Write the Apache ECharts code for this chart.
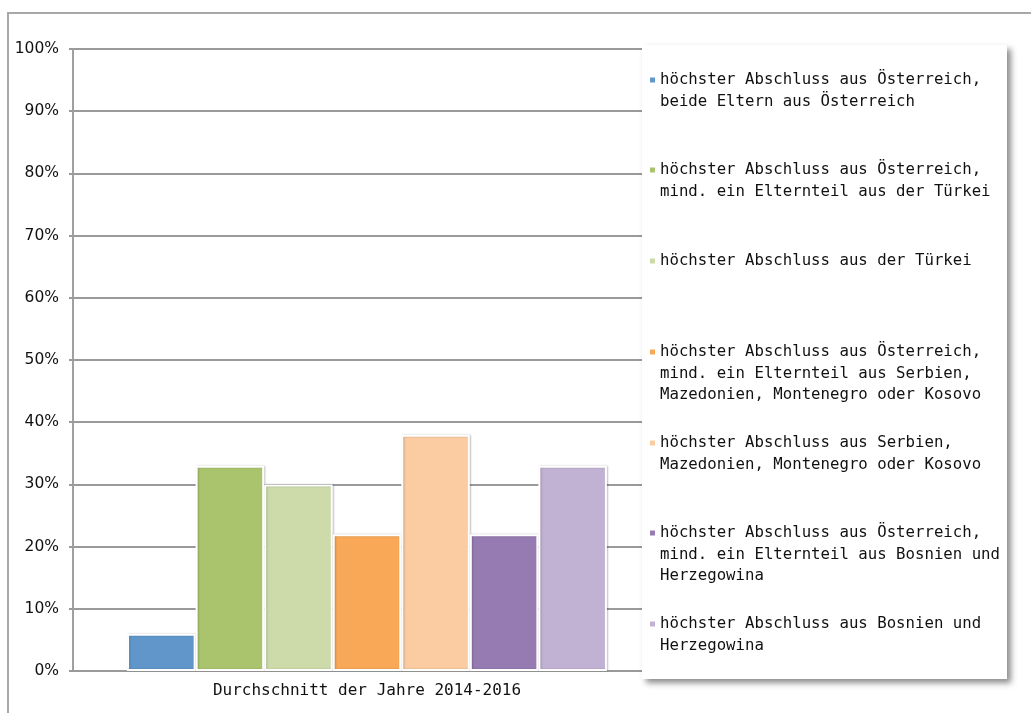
<!DOCTYPE html>
<html>
<head>
<meta charset="utf-8">
<script src="https://cdn.jsdelivr.net/npm/echarts@6/dist/echarts.min.js"></script>
<style>
  html, body { margin: 0; padding: 0; background: #fff; }
  #chart { width: 1031px; height: 713px; }
</style>
</head>
<body>
<div id="chart"></div>
<script>
// data
const categories = ['Durchschnitt der Jahre 2014-2016']
const seriesNames = [
  'höchster Abschluss aus Österreich,\nbeide Eltern aus Österreich',
  'höchster Abschluss aus Österreich,\nmind. ein Elternteil aus der Türkei',
  'höchster Abschluss aus der Türkei',
  'höchster Abschluss aus Österreich,\nmind. ein Elternteil aus Serbien,\nMazedonien, Montenegro oder Kosovo',
  'höchster Abschluss aus Serbien,\nMazedonien, Montenegro oder Kosovo',
  'höchster Abschluss aus Österreich,\nmind. ein Elternteil aus Bosnien und\nHerzegowina',
  'höchster Abschluss aus Bosnien und\nHerzegowina',
]
const seriesValues = [6, 33, 30, 22, 38, 22, 33]
const seriesColors = ['#6096c9', '#aac46e', '#cddbaa', '#f9a857', '#fbcba1', '#957bb1', '#c1b2d3']
const yTicks = [0, 10, 20, 30, 40, 50, 60, 70, 80, 90, 100]

// legend layout (first line centre of each entry)
const legendLineCenters = [80, 170, 261, 352, 443, 533, 624]
const lineH = 21.5
const monoFont = 'DejaVu Sans Mono'

const chart = echarts.init(document.getElementById('chart'), null, { renderer: 'canvas' })

const legends = seriesNames.map((name, i) => {
  const n = name.split('\n').length
  return {
    data: [name],
    orient: 'vertical',
    left: 650,
    top: legendLineCenters[i] - (n - 1) * lineH - lineH / 2,
    padding: 0,
    itemWidth: 5,
    itemHeight: 5,
    icon: 'rect',
    selectedMode: false,
    z: 10,
    itemStyle: { borderWidth: 0, shadowBlur: 0 },
    formatter: (nm) => '\n'.repeat(n - 1) + nm,
    textStyle: {
      fontFamily: monoFont,
      fontSize: 15.7,
      lineHeight: lineH,
      color: '#111',
    },
  }
})

chart.setOption({
  animation: false,
  backgroundColor: '#fff',
  graphic: [
    {
      type: 'rect',
      z: 0,
      silent: true,
      shape: { x: 8, y: 13, width: 1100, height: 800 },
      style: { fill: 'none', stroke: '#a8a8a8', lineWidth: 2 },
    },
    {
      type: 'rect',
      z: 6,
      silent: true,
      shape: { x: 642, y: 45, width: 365, height: 634 },
      style: {
        fill: '#fff',
        shadowBlur: 6,
        shadowOffsetX: 4,
        shadowOffsetY: 4,
        shadowColor: 'rgba(0,0,0,0.45)',
      },
    },
  ],
  legend: legends,
  grid: {
    left: 73,
    right: 370,
    top: 49,
    bottom: 42,
  },
  xAxis: {
    type: 'category',
    data: categories,
    axisLine: { show: true, lineStyle: { color: '#9a9a9a', width: 2 } },
    axisTick: { show: false },
    axisLabel: {
      margin: 12,
      fontFamily: monoFont,
      fontSize: 16,
      color: '#111',
    },
  },
  yAxis: {
    type: 'value',
    min: yTicks[0],
    max: yTicks[yTicks.length - 1],
    interval: 10,
    axisLine: { show: true, lineStyle: { color: '#a0a0a0', width: 2 } },
    axisTick: { show: true, length: 4, lineStyle: { color: '#9a9a9a', width: 2 } },
    axisLabel: {
      margin: 14,
      fontFamily: 'DejaVu Sans',
      fontSize: 15.5,
      color: '#111',
      formatter: '{value}%',
    },
    splitLine: { show: true, lineStyle: { color: '#9a9a9a', width: 2 } },
  },
  series: seriesNames.map((name, i) => ({
    name: name,
    type: 'bar',
    data: [seriesValues[i]],
    barGap: '0%',
    barCategoryGap: '18.4%',
    z: 3,
    itemStyle: {
      color: seriesColors[i],
      borderColor: '#fff',
      borderWidth: 2,
      shadowBlur: 2,
      shadowOffsetX: 1,
      shadowOffsetY: 0,
      shadowColor: 'rgba(0,0,0,0.2)',
    },
    emphasis: { disabled: true },
  })),
})
</script>
</body>
</html>
